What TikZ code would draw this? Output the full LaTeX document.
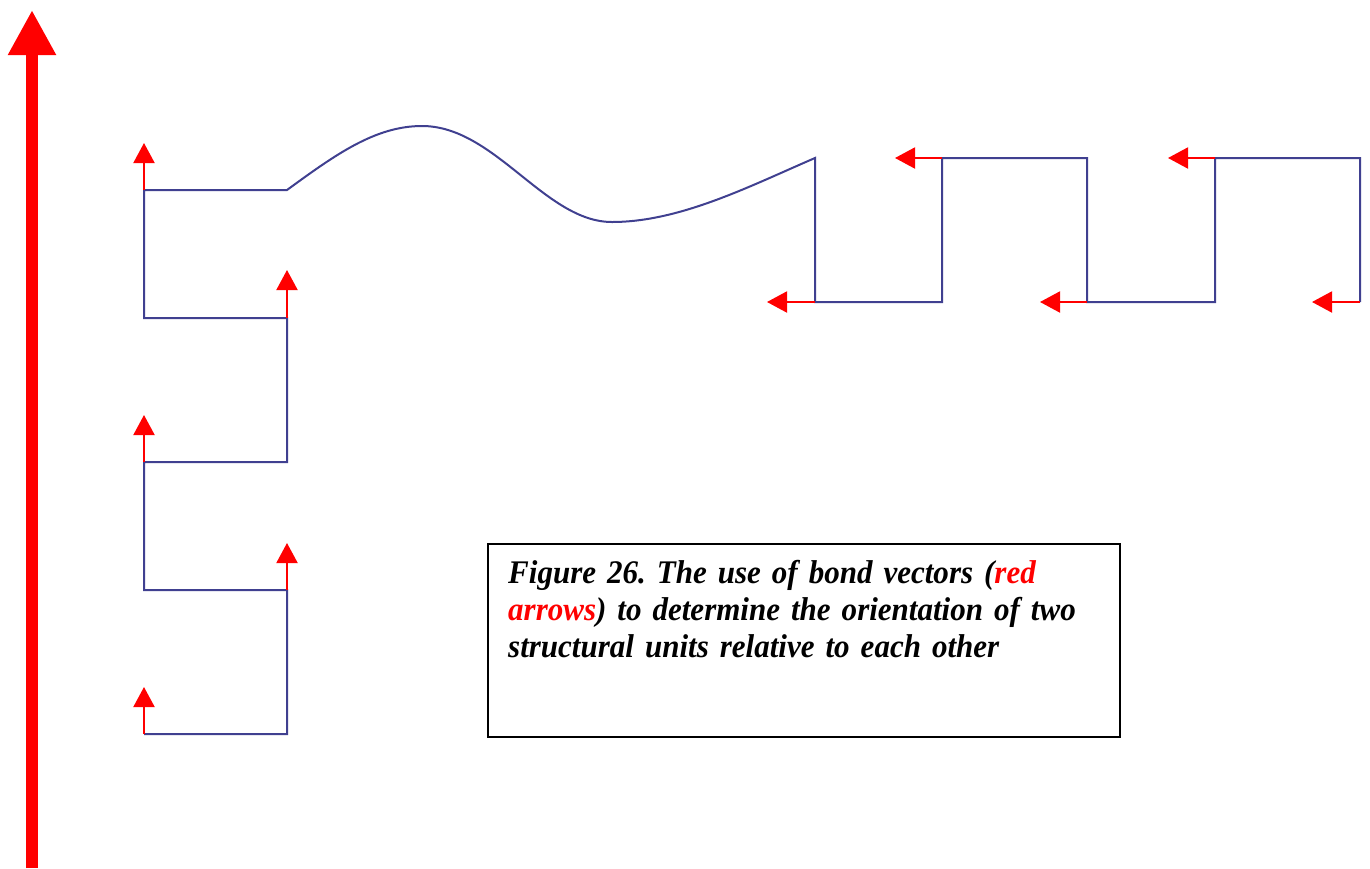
\documentclass[tikz,border=0pt]{standalone}
\usepackage{fontspec}
\setmainfont{Liberation Serif}
\newfontfamily\capfont[FakeStretch=0.94]{Liberation Serif}
\usetikzlibrary{arrows.meta}
\definecolor{bondblue}{RGB}{64,64,144}
\definecolor{vred}{RGB}{255,0,0}
\tikzset{
  chain/.style={draw=bondblue, line width=2pt, line join=miter},
  bondvec/.style={draw=vred, line width=2pt, -{Triangle[width=21pt,length=20pt]}},
  axisvec/.style={draw=vred, line width=12pt, -{Triangle[width=45pt,length=45pt]}},
  capbox/.style={draw=black, line width=1.5pt, minimum width=632pt, minimum height=193pt, anchor=north west, inner sep=0pt},
  captext/.style={anchor=base west, inner sep=0pt, text width=610pt, align=left,
    font=\capfont\fontsize{33}{37}\selectfont\bfseries\itshape\frenchspacing}
}
\begin{document}
\begin{tikzpicture}[x=1pt,y=-1pt]
\useasboundingbox (0,0) rectangle (1370,868);
% axis
\coordinate (axB) at (32,868);
\coordinate (axT) at (32,10);
\draw[axisvec] (axB) -- (axT);
% left chain vertices
\coordinate (a1) at (287,190);
\coordinate (a2) at (144,190);
\coordinate (a3) at (144,318);
\coordinate (a4) at (287,318);
\coordinate (a5) at (287,462);
\coordinate (a6) at (144,462);
\coordinate (a7) at (144,590);
\coordinate (a8) at (287,590);
\coordinate (a9) at (287,734);
\coordinate (a10) at (144,734);
% right chain vertices
\coordinate (b1) at (815,158);
\coordinate (b2) at (815,302);
\coordinate (b3) at (942,302);
\coordinate (b4) at (942,158);
\coordinate (b5) at (1087,158);
\coordinate (b6) at (1087,302);
\coordinate (b7) at (1215,302);
\coordinate (b8) at (1215,158);
\coordinate (b9) at (1360,158);
\coordinate (b10) at (1360,302);
% curve
\coordinate (peak) at (422,126);
\coordinate (trough) at (612,222);
\draw[chain] (a10) -- (a9) -- (a8) -- (a7) -- (a6) -- (a5) -- (a4) -- (a3) -- (a2) -- (a1)
  .. controls (335,155) and (375,126) .. (peak)
  .. controls (495,126) and (545,222) .. (trough)
  .. controls (680,222) and (750,186) .. (b1)
  -- (b2) -- (b3) -- (b4) -- (b5) -- (b6) -- (b7) -- (b8) -- (b9) -- (b10);
% bond vector tips
\coordinate (u1) at (144,143);
\coordinate (u2) at (287,270);
\coordinate (u3) at (144,415);
\coordinate (u4) at (287,543);
\coordinate (u5) at (144,687);
\coordinate (l1) at (767,302);
\coordinate (l2) at (895,158);
\coordinate (l3) at (1040,302);
\coordinate (l4) at (1168,158);
\coordinate (l5) at (1312,302);
\draw[bondvec] (a2) -- (u1);
\draw[bondvec] (a4) -- (u2);
\draw[bondvec] (a6) -- (u3);
\draw[bondvec] (a8) -- (u4);
\draw[bondvec] (a10) -- (u5);
\draw[bondvec] (b2) -- (l1);
\draw[bondvec] (b4) -- (l2);
\draw[bondvec] (b6) -- (l3);
\draw[bondvec] (b8) -- (l4);
\draw[bondvec] (b10) -- (l5);
% caption
\node[capbox] (box) at (487,543) {};
\node[captext] (cap) at (508,583) {Figure 26. The use of bond vectors ({\color{vred}red}\\
{\color{vred}arrows}) to determine the orientation of two\\
structural units relative to each other};
\end{tikzpicture}
\end{document}
